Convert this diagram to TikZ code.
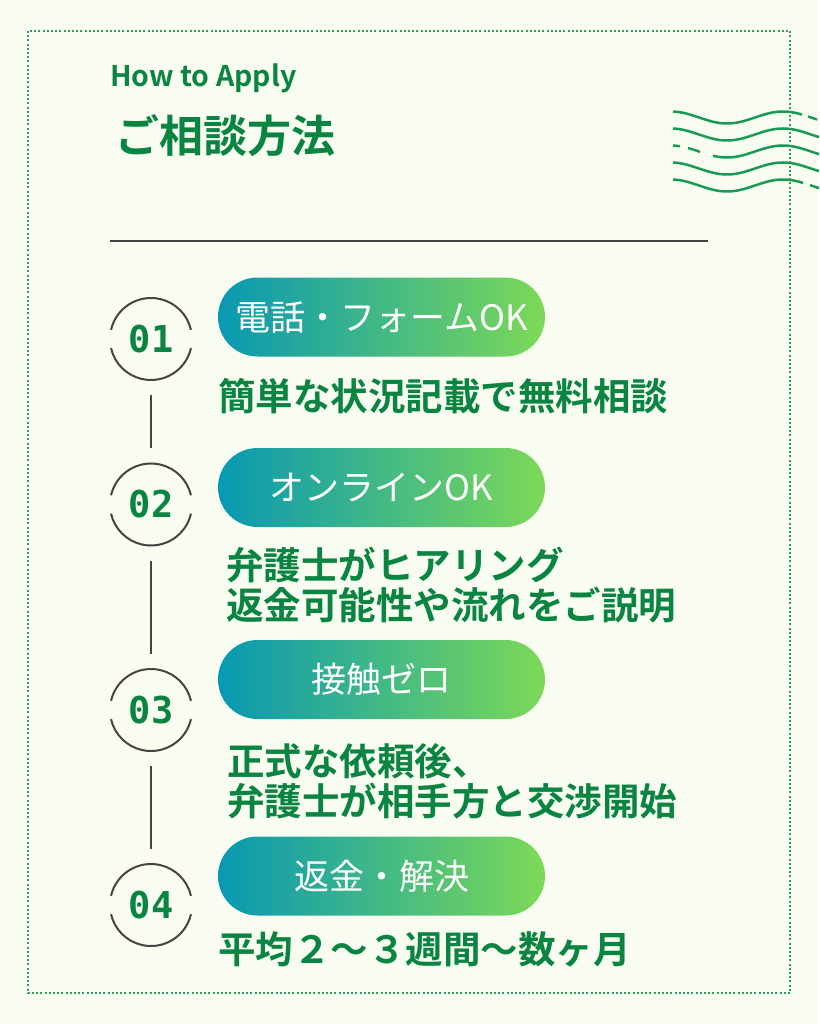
\documentclass[tikz,border=0pt]{standalone}
\usepackage{fontspec}
\newfontfamily\jp{Noto Sans CJK JP}[BoldFont={Noto Sans CJK JP Bold}]
\newfontfamily\digits{DejaVu Sans Mono}[BoldFont={DejaVu Sans Mono Bold}]
\usetikzlibrary{shapes}

\definecolor{bgcol}{HTML}{F9FDF1}
\definecolor{textgreen}{HTML}{0A8541}
\definecolor{wavegreen}{HTML}{179A52}
\definecolor{dotgreen}{HTML}{2E9A5C}
\definecolor{ringgray}{HTML}{444444}
\definecolor{pillL}{HTML}{0898B3}
\definecolor{pillR}{HTML}{7DD957}

\newcommand\wavepart[3]{\draw[wave] plot[domain=#2:#3, samples=50] (\x,{#1+6*cos((\x-727)*3.2143)});}

\begin{document}
\begin{tikzpicture}[x=1pt, y=-1pt,
  pill/.style={rounded corners=39.5pt, left color=pillL, right color=pillR, draw=none,
    minimum width=327pt, minimum height=79pt, inner sep=0pt, text=white,
    font=\jp\fontsize{35}{35}\selectfont},
  desc/.style={anchor=west, inner sep=0pt, align=left, text=textgreen,
    font=\jp\bfseries\fontsize{37.5}{40}\selectfont},
  num/.style={circle, minimum size=82pt, inner sep=0pt, text=textgreen,
    font=\digits\bfseries\fontsize{37}{37}\selectfont},
  ring/.style={draw=ringgray, line width=2pt},
  link/.style={draw=ringgray, line width=2pt, shorten <=15pt, shorten >=15pt},
  wave/.style={draw=wavegreen, line width=2.5pt},
  rule/.style={draw=ringgray, line width=2pt}]

 \useasboundingbox (0,0) rectangle (819,1024);
 \fill[bgcol] (0,0) rectangle (819,1024);

 % heading
 \node (howto) [anchor=west, inner sep=0pt, text=textgreen, font=\jp\bfseries\fontsize{28.5}{28.5}\selectfont] at (110,78) {How to Apply};
 \node (heading) [anchor=west, inner sep=0pt, text=textgreen, font=\jp\bfseries\fontsize{44}{44}\selectfont] at (115,136) {ご相談方法};

 % waves top right
 \wavepart{117.5}{673}{802}
 \wavepart{117.5}{808}{817}
 \wavepart{134.5}{673}{819}
 \wavepart{151.5}{673}{680}
 \wavepart{151.5}{688}{700}
 \wavepart{151.5}{713}{819}
 \wavepart{168.5}{673}{819}
 \wavepart{185.5}{673}{803}
 \wavepart{185.5}{810}{819}

 \draw[rule] (110,241) -- (708,241);

 % steps
 \node (tel) [pill] at (381.5,317) {電話・フォームOK};
 \node (online) [pill] at (381.5,487.5) {オンラインOK};
 \node (zero) [pill] at (381.5,679.5) {接触ゼロ};
 \node (refund) [pill] at (381.5,876) {返金・解決};

 \node (telnote) [desc] at (218,396) {簡単な状況記載で無料相談};
 \node (onlinenote) [desc] at (226,585) {弁護士がヒアリング\\返金可能性や流れをご説明};
 \node (zeronote) [desc] at (227,781) {正式な依頼後、\\弁護士が相手方と交渉開始};
 \node (refundnote) [desc] at (218,949) {平均２～３週間～数ヶ月};

 \node (n1) [num] at (151,339) {01};
 \node (n2) [num] at (151,504.5) {02};
 \node (n3) [num] at (151,710) {03};
 \node (n4) [num] at (151,905) {04};

 \foreach \n in {n1,n2,n3,n4} {
  \draw[ring] (\n) ++(13:41) arc[start angle=13, end angle=167, radius=41];
  \draw[ring] (\n) ++(193:41) arc[start angle=193, end angle=347, radius=41];
 }

 \draw[link] (n1) -- (n2);
 \draw[link] (n2) -- (n3);
 \draw[link] (n3) -- (n4);

 % dotted frame
 \draw[dotgreen, line width=2pt, dash pattern=on 2pt off 2.2pt] (28,31) rectangle (790,993);
\end{tikzpicture}
\end{document}
